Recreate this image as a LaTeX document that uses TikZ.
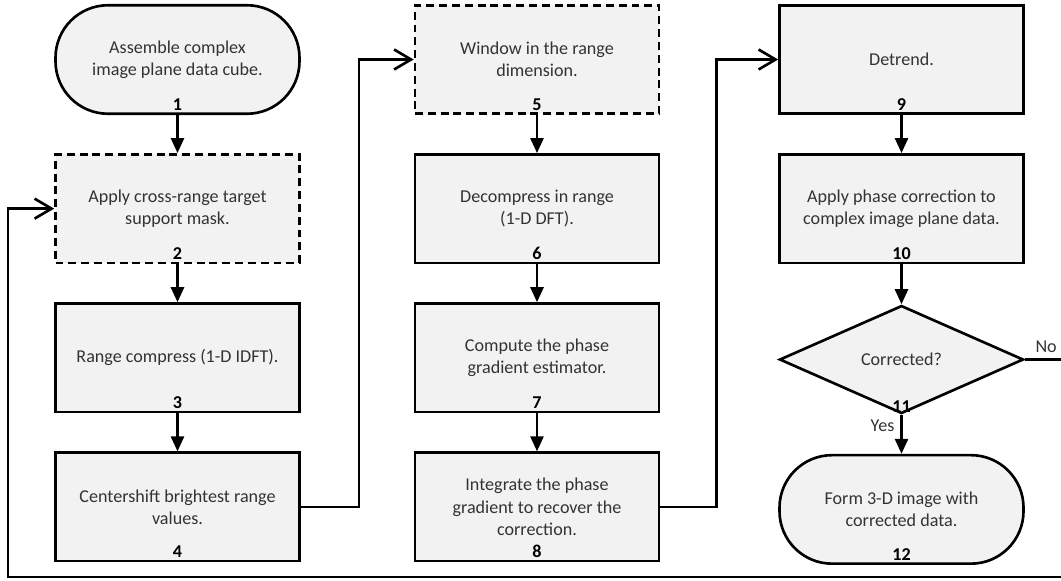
\documentclass[tikz,border=0pt]{standalone}
\usepackage{fontspec}
\setmainfont{Carlito}
\usetikzlibrary{positioning,shapes.geometric,arrows.meta}
\tikzset{
  stepbox/.style={draw, line width=1.5pt, fill=black!5, align=center,
    minimum width=4.88cm, minimum height=2.17cm, inner sep=0pt,
    text=black!80, font=\fontsize{10.3}{12.6}\selectfont},
  dashbox/.style={stepbox, dash pattern=on 4.5pt off 2.8pt},
  endbox/.style={stepbox, rounded corners=1.05cm},
  decbox/.style={draw, line width=1.5pt, fill=black!5, diamond, aspect=2.26,
    minimum width=4.88cm, minimum height=2.16cm, inner sep=0pt,
    text=black!80, font=\fontsize{10.3}{12.6}\selectfont},
  num/.style={anchor=south, inner sep=2.5pt, text=black,
    font=\fontsize{10.3}{12.6}\selectfont\bfseries},
  tag/.style={text=black!80, font=\fontsize{10.3}{12.6}\selectfont},
  flow/.style={line width=1.5pt, -{Triangle[length=0.3cm, width=0.26cm]}},
  back/.style={line width=1.5pt, -{Straight Barb[length=0.34cm, width=0.4cm]}},
}
\begin{document}
\begin{tikzpicture}
  \useasboundingbox (0,0) rectangle (21.22,-11.6);
  % first column
  \node[endbox, label={[num]south:1}] (box1) at (3.55,-1.19) {Assemble complex\\image plane data cube.};
  \node[dashbox, label={[num]south:2}, below=0.76cm of box1] (box2) {Apply cross-range target\\support mask.};
  \node[stepbox, label={[num]south:3}, below=0.76cm of box2] (box3) {Range compress (1-D IDFT).};
  \node[stepbox, label={[num]south:4}, below=0.76cm of box3] (box4) {Centershift brightest range\\values.};
  % second column
  \node[dashbox, label={[num]south:5}] (box5) at (10.74,-1.19) {Window in the range\\dimension.};
  \node[stepbox, label={[num]south:6}, below=0.76cm of box5] (box6) {Decompress in range\\(1-D DFT).};
  \node[stepbox, label={[num]south:7}, below=0.76cm of box6] (box7) {Compute the phase\\gradient estimator.};
  \node[stepbox, label={[num]south:8}, below=0.76cm of box7] (box8) {Integrate the phase\\gradient to recover the\\correction.};
  % third column
  \node[stepbox, label={[num]south:9}] (box9) at (18.03,-1.19) {Detrend.};
  \node[stepbox, label={[num]south:10}, below=0.76cm of box9] (box10) {Apply phase correction to\\complex image plane data.};
  \node[decbox, label={[num, inner sep=1pt]south:11}, below=0.8cm of box10] (dec) {Corrected?};
  \node[endbox, label={[num]south:12}, below=0.78cm of dec] (box12) {Form 3-D image with\\corrected data.};

  \coordinate (cornerR) at (21.6,-11.54);
  \coordinate (cornerL) at (0.16,-11.54);

  \draw[flow] (box1) -- (box2);
  \draw[flow] (box2) -- (box3);
  \draw[flow] (box3) -- (box4);
  \draw[flow] (box5) -- (box6);
  \draw[flow] (box6) -- (box7);
  \draw[flow] (box7) -- (box8);
  \draw[flow] (box9) -- (box10);
  \draw[flow] (box10) -- (dec);
  \draw[flow] (dec) -- node[tag, left, pos=0.28]{Yes} (box12);

  \draw[back] (box4.east) -- ++(1.16,0) |- (box5.west);
  \draw[back] (box8.east) -- ++(1.12,0) |- (box9.west);
  \draw[back] (dec.east) -- node[tag, above right, at start, xshift=2pt]{No} (dec.east -| cornerR)
    -- (cornerR) -- (cornerL) |- (box2.west);
\end{tikzpicture}
\end{document}
